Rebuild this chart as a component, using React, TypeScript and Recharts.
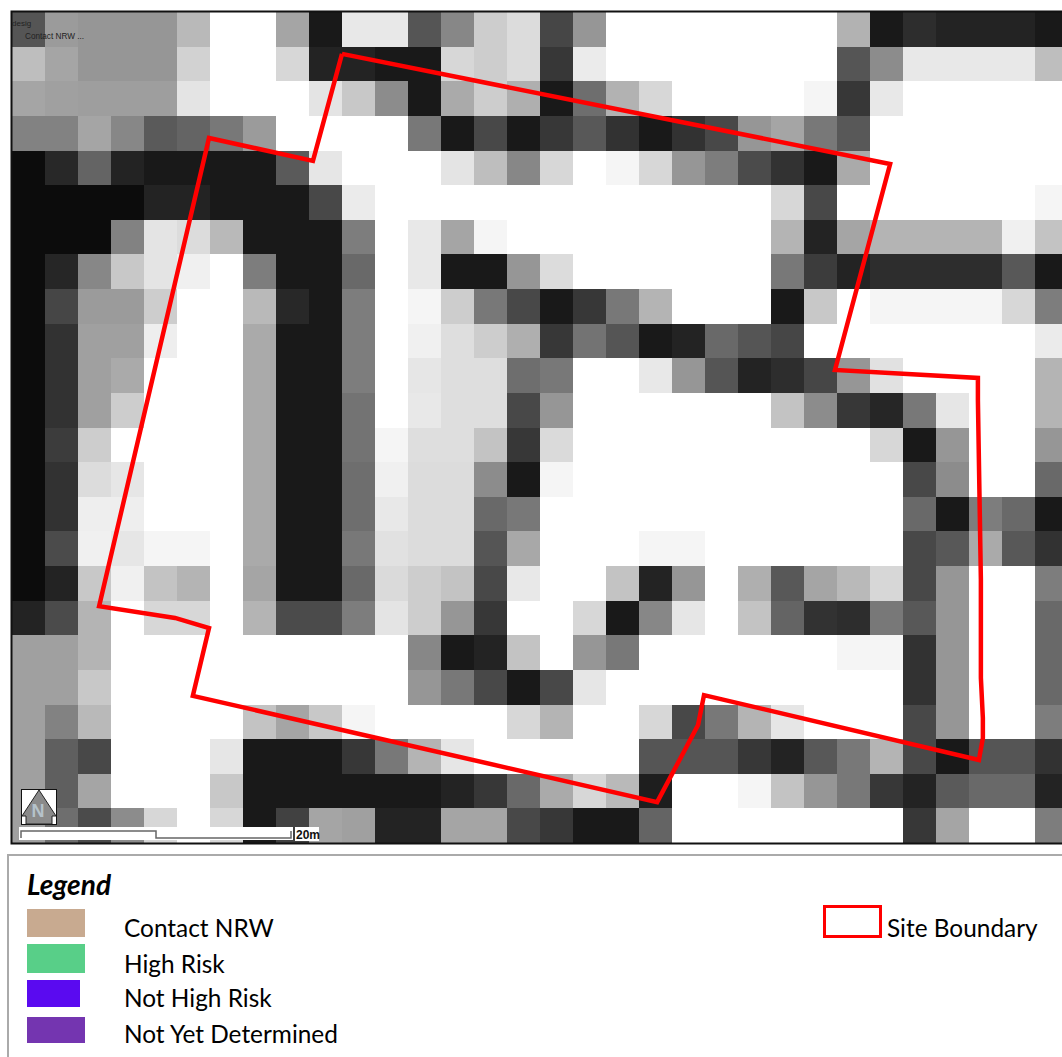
import { ScatterChart, Scatter, XAxis, YAxis } from 'recharts'

const W = 255

// grey level of each raster cell, row by row from the top
const grayRows: number[][] = [
  [85, 155, 150, 150, 150, 185, W, W, 165, 25, 232, 232, 85, 135, 205, 220, 70, 150, W, W, W, W, W, W, W, 178, 25, 45, 35, 35, 35, 25],
  [190, 165, 150, 150, 150, 210, W, W, 215, 35, 35, 25, 25, 215, 205, 220, 55, 235, W, W, W, W, W, W, W, 85, 140, 232, 232, 232, 232, 190],
  [165, 160, 158, 158, 158, 228, W, W, W, 228, 200, 140, 25, 170, 205, 175, 25, 110, 178, 215, W, W, W, W, 245, 55, 232, W, W, W, W, W],
  [130, 130, 165, 135, 90, 100, 120, 155, W, W, W, W, 120, 25, 72, 25, 55, 88, 50, 25, 50, 72, 150, 165, 120, 88, W, W, W, W, W, W],
  [12, 40, 100, 35, 25, 25, 25, 25, 90, 230, W, W, W, 228, 190, 135, 215, W, 245, 215, 150, 125, 75, 50, 25, 170, W, W, W, W, W, W],
  [12, 12, 12, 12, 35, 35, 25, 25, 25, 72, 235, W, W, W, W, W, W, W, W, W, W, W, W, 215, 72, W, W, W, W, W, W, 245],
  [12, 12, 12, 130, 228, 220, 185, 25, 25, 25, 125, W, 232, 165, 245, W, W, W, W, W, W, W, W, 180, 35, 165, 180, 180, 180, 180, 240, 195],
  [12, 38, 135, 200, 228, 240, W, 125, 25, 25, 105, W, 232, 25, 25, 150, 220, W, W, W, W, W, W, 120, 60, 35, 45, 45, 45, 45, 88, 25],
  [12, 70, 155, 155, 205, W, W, 185, 40, 25, 125, W, 245, 205, 120, 72, 25, 55, 120, 180, W, W, W, 25, 200, W, 245, 245, 245, 245, 215, 125],
  [12, 50, 160, 160, 238, W, W, 170, 25, 25, 125, W, 240, 222, 205, 175, 55, 115, 85, 25, 35, 105, 85, 70, W, W, W, W, W, W, W, 235],
  [12, 50, 160, 170, W, W, W, 170, 25, 25, 125, W, 230, 222, 222, 110, 120, W, W, 232, 150, 85, 35, 45, 70, 150, 225, W, W, W, W, 180],
  [12, 50, 160, 205, W, W, W, 170, 25, 25, 115, W, 232, 222, 222, 72, 150, W, W, W, W, W, W, 195, 140, 55, 38, 120, 230, W, W, 180],
  [12, 60, 205, W, W, W, W, 170, 25, 25, 115, 245, 222, 222, 195, 55, 218, W, W, W, W, W, W, W, W, W, 215, 25, 150, W, W, 150],
  [12, 50, 220, 230, W, W, W, 170, 25, 25, 110, 240, 220, 220, 140, 25, 245, W, W, W, W, W, W, W, W, W, W, 72, 140, W, W, 105],
  [12, 50, 238, 238, W, W, W, 170, 25, 25, 110, 232, 220, 220, 105, 120, W, W, W, W, W, W, W, W, W, W, W, 105, 25, 125, 105, 25],
  [12, 75, 240, 230, 245, 245, W, 170, 25, 25, 120, 225, 220, 220, 85, 168, W, W, W, 245, 245, W, W, W, W, W, W, 72, 88, 170, 88, 50],
  [12, 35, 200, 240, 195, 180, W, 165, 25, 25, 105, 218, 205, 195, 72, 232, W, W, 195, 35, 150, W, 175, 88, 165, 185, 215, 72, 150, W, W, 125],
  [35, 75, 180, W, 215, 215, W, 180, 75, 75, 125, 228, 205, 150, 55, W, W, 215, 25, 135, 230, W, 195, 100, 50, 45, 120, 88, 150, W, W, 105],
  [160, 160, 180, W, W, W, W, W, W, W, W, W, 135, 25, 35, 195, W, 150, 120, W, W, W, W, W, W, 245, 245, 50, 150, W, W, 105],
  [160, 160, 200, W, W, W, W, W, W, W, W, W, 150, 120, 72, 25, 72, 230, W, W, W, W, W, W, W, W, W, 50, 150, W, W, 105],
  [160, 130, 185, W, W, W, W, 195, 165, 200, 245, W, W, W, W, 215, 180, W, W, 215, 72, 120, 180, 230, W, W, W, 72, 150, W, W, 125],
  [160, 95, 72, W, W, W, 230, 25, 25, 25, 55, 120, 180, 230, W, W, W, W, W, 85, 85, 85, 55, 35, 88, 120, 180, 72, 25, 85, 85, 50],
  [160, 95, 165, W, W, W, 200, 25, 25, 25, 25, 25, 25, 35, 55, 105, 170, 215, 185, 30, W, W, 245, 195, 150, 120, 55, 35, 90, 105, 105, 35],
  [160, 110, 75, 140, 215, W, 215, 25, 65, 165, 160, 35, 35, 165, 165, 72, 55, 25, 25, 100, W, W, W, W, W, W, W, 55, 165, W, W, 125],
]

// site boundary, in grid units (columns, rows)
const boundaryX = [10.0, 26.61, 24.94, 29.27, 29.27, 29.36, 29.36, 29.42, 29.42, 29.3, 20.97, 20.79, 19.55, 5.48, 5.97, 4.94, 2.64, 5.97, 9.12, 10.0]
const boundaryY = [1.21, 4.39, 10.34, 10.57, 11.21, 16.4, 19.23, 20.39, 20.97, 21.6, 19.73, 20.59, 22.82, 19.75, 17.79, 17.5, 17.16, 3.64, 4.3, 1.21]

const legendLabels = ['Contact NRW', 'High Risk', 'Not High Risk', 'Not Yet Determined']
const legendColors = ['#c8aa90', '#58cf88', '#5a0af0', '#7435b0']

const cellData = grayRows.flatMap((row, r) =>
  row.map((gray, c) => ({ x: c + 0.5, y: r + 0.5, gray })),
)
const boundaryData = boundaryX.map((x, i) => ({ x, y: boundaryY[i] }))

const CELL_W = 33
const CELL_H = 831 / 24

const RasterCell = (props: any) => {
  const { cx, cy, payload } = props
  const g = payload.gray
  return (
    <rect
      x={cx - CELL_W / 2}
      y={cy - CELL_H / 2}
      width={CELL_W}
      height={CELL_H}
      fill={`rgb(${g},${g},${g})`}
      shapeRendering="crispEdges"
    />
  )
}

const legendSwatches = [
  { left: 27, top: 909, width: 58, height: 28, textTop: 913 },
  { left: 27, top: 944, width: 58, height: 29, textTop: 949 },
  { left: 27, top: 980, width: 53, height: 27, textTop: 983 },
  { left: 27, top: 1017, width: 58, height: 26, textTop: 1019 },
]

const MapOverlay = () => (
  <svg width={1062} height={1057} style={{ position: 'absolute', left: 0, top: 0 }}>
    <path d="M1062 11.5H11.5V843.5H1062" fill="none" stroke="#111" strokeWidth={2} />
    <text x={12} y={26} fontSize={8} fontFamily="Liberation Sans" fill="#222">desig</text>
    <text x={25} y={39} fontSize={8.2} fontFamily="Liberation Sans" fill="#222">Contact NRW ...</text>

    {/* north arrow */}
    <rect x={21.5} y={789.5} width={35} height={35} fill="#fff" stroke="#111" />
    <path d="M39 790L22 816H26V824H52V816H56Z" fill="#8a8a8a" stroke="#222" />
    <text x={38} y={817} textAnchor="middle" fontSize={18} fontWeight="bold" fontFamily="Liberation Sans" fill="#b5c2ca">N</text>

    {/* scale bar */}
    <rect x={19} y={827} width={274} height={13} fill="#fff" />
    <path d="M21 838V831H156V838H291V831" fill="none" stroke="#666" strokeWidth={1.5} />
    <rect x={295} y={827} width={24} height={14} fill="#fff" />
    <text x={296} y={839} fontSize={12} fontWeight="bold" fontFamily="Liberation Sans" fill="#111">20m</text>
  </svg>
)

const LegendPanel = () => (
  <div style={{ position: 'absolute', left: 0, top: 0, width: 1062, height: 1057, fontFamily: 'Lato', color: '#000' }}>
    <div style={{ position: 'absolute', left: 7, top: 854, width: 1055, height: 203, borderTop: '2px solid #aaa', borderLeft: '2px solid #aaa', boxSizing: 'border-box' }} />
    <div style={{ position: 'absolute', left: 27, top: 869, fontSize: 28, fontWeight: 700, fontStyle: 'italic', lineHeight: '30px' }}>Legend</div>
    {legendLabels.map((label, i) => {
      const s = legendSwatches[i]
      return (
        <div key={label}>
          <div style={{ position: 'absolute', left: s.left, top: s.top, width: s.width, height: s.height, background: legendColors[i] }} />
          <div style={{ position: 'absolute', left: 124, top: s.textTop, fontSize: 24.4, lineHeight: '30px', whiteSpace: 'nowrap' }}>{label}</div>
        </div>
      )
    })}
    <div style={{ position: 'absolute', left: 823, top: 905, width: 59, height: 33, border: '3px solid #ff0000', boxSizing: 'border-box', background: '#fff' }} />
    <div style={{ position: 'absolute', left: 887, top: 913, fontSize: 24.4, lineHeight: '30px', whiteSpace: 'nowrap' }}>Site Boundary</div>
  </div>
)

const App = () => (
  <div style={{ position: 'absolute', left: 0, top: 0, width: 1062, height: 1057, overflow: 'hidden', background: '#fff' }}>
    <ScatterChart width={1062} height={1057} margin={{ top: 12, left: 12, right: -6, bottom: 214 }}>
      <XAxis type="number" dataKey="x" domain={[0, 32]} hide />
      <YAxis type="number" dataKey="y" domain={[0, 24]} reversed hide />
      <Scatter data={cellData} shape={RasterCell} isAnimationActive={false} />
      <Scatter
        data={boundaryData}
        line={{ stroke: '#ff0000', strokeWidth: 4.5 }}
        shape={() => null}
        isAnimationActive={false}
      />
    </ScatterChart>
    <MapOverlay />
    <LegendPanel />
  </div>
)

export default App
